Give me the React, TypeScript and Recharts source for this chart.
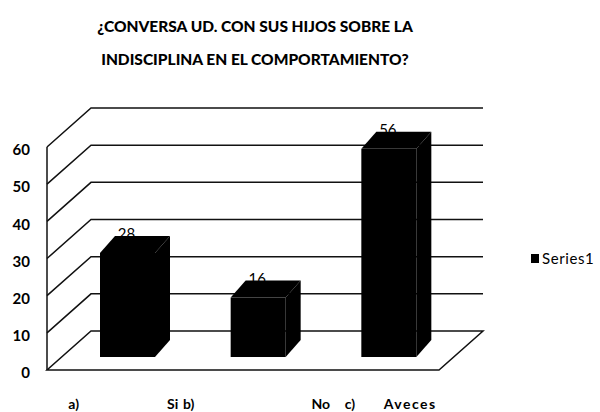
import React from 'react';
import { BarChart, Bar, XAxis, YAxis, CartesianGrid, LabelList } from 'recharts';

const LETTERS = ['a)', 'b)', 'c)'];
const ANSWERS = ['Si', 'No', 'Aveces'];
const SERIES1 = [28, 16, 56];
const Y_TICKS = [0, 10, 20, 30, 40, 50, 60];
const TITLE_LINES = ['¿CONVERSA UD. CON SUS HIJOS SOBRE LA', 'INDISCIPLINA EN EL COMPORTAMIENTO?'];
const SERIES_NAME = 'Series1';

const data = ANSWERS.map((a, i) => ({ name: `${LETTERS[i]} ${a}`, Series1: SERIES1[i] }));

// 3D look (styling constants)
const FLOOR_DX = 44;
const FLOOR_DY = -39;
const BAR_OX = 15;
const BAR_OY = -13;
const BAR_DX = 15;
const BAR_DY = -17;
const LETTER_DX = [-44, -60, -29];
const NAME_DX = [66, 87, 63];
const NAME_SPACING = [0, 0, 1.5];
const FONT = 'Lato, "Open Sans", sans-serif';
const LINE = '#111';

const GridLine = (props: any) => {
  const { x1, x2, y1, index } = props;
  const y = y1;
  if (index === 0 || Math.abs(y - 370) < 1) {
    const d = `M${x1},${y} L${x2},${y} L${x2 + FLOOR_DX},${y + FLOOR_DY} L${x1 + FLOOR_DX},${y + FLOOR_DY} Z`;
    return <path key={`g${index}`} d={d} fill="none" stroke={LINE} strokeWidth={1.5} />;
  }
  const d = `M${x1},${y} L${x1 + FLOOR_DX},${y + FLOOR_DY} L${x2 + FLOOR_DX},${y + FLOOR_DY}`;
  return <path key={`g${index}`} d={d} fill="none" stroke={LINE} strokeWidth={1.5} />;
};

const Box3D = (props: any) => {
  const { x, y, width, height } = props;
  const fx = x + BAR_OX;
  const fy = y + BAR_OY;
  const top = `M${fx},${fy} L${fx + BAR_DX},${fy + BAR_DY} L${fx + width + BAR_DX},${fy + BAR_DY} L${fx + width},${fy} Z`;
  const side = `M${fx + width},${fy} L${fx + width + BAR_DX},${fy + BAR_DY} L${fx + width + BAR_DX},${fy + height + BAR_DY} L${fx + width},${fy + height} Z`;
  return (
    <g>
      <rect x={fx} y={fy} width={width} height={height} fill="#000" />
      <path d={top} fill="#000" />
      <path d={side} fill="#000" />
    </g>
  );
};

const ValueLabel = (props: any) => {
  const { x, y, width, value } = props;
  return (
    <text x={x + BAR_OX + width / 2 - 1} y={y + BAR_OY + BAR_DY + 3} textAnchor="middle" fontSize={15} fontFamily={FONT} fill="#000">
      {value}
    </text>
  );
};

const XTick = (props: any) => {
  const { x, y, index } = props;
  return (
    <g>
      <text x={x + LETTER_DX[index]} y={y + 31} textAnchor="start" fontSize={14} fontWeight={700} fontFamily={FONT} fill="#000">
        {LETTERS[index]}
      </text>
      <text x={x + NAME_DX[index]} y={y + 31} textAnchor="end" fontSize={14} fontWeight={700} letterSpacing={NAME_SPACING[index]} fontFamily={FONT} fill="#000">
        {ANSWERS[index]}
      </text>
    </g>
  );
};

export default function App() {
  return (
    <div style={{ position: 'absolute', left: 0, top: 0, width: 600, height: 412, background: '#fff', fontFamily: FONT }}>
      <div style={{ position: 'absolute', left: 0, top: 10, width: 510, textAlign: 'center', fontWeight: 900, fontSize: 15.5, lineHeight: '33px', color: '#000' }}>
        {TITLE_LINES.map((t) => (
          <div key={t}>{t}</div>
        ))}
      </div>
      <BarChart width={600} height={412} data={data} margin={{ top: 147, right: 161, left: 0, bottom: 0 }}>
        <CartesianGrid vertical={false} horizontal={GridLine as any} />
        <XAxis dataKey="name" axisLine={false} tickLine={false} height={42} tick={<XTick />} interval={0} />
        <YAxis
          domain={[0, 60]}
          ticks={Y_TICKS}
          width={47}
          tickSize={6}
          tickMargin={11}
          tickLine={false}
          axisLine={{ stroke: LINE, strokeWidth: 1.5 }}
          tick={{ fontSize: 15, fontWeight: 700, fontFamily: FONT, fill: '#000', dy: 3 }}
        />
        <Bar dataKey="Series1" name={SERIES_NAME} barSize={55} fill="#000" shape={<Box3D />} isAnimationActive={false}>
          <LabelList dataKey="Series1" content={<ValueLabel />} />
        </Bar>
      </BarChart>
      <div style={{ position: 'absolute', left: 531, top: 249, display: 'flex', alignItems: 'center', fontSize: 15, letterSpacing: 0.6, color: '#000' }}>
        <span style={{ display: 'inline-block', width: 8, height: 9, background: '#000', marginRight: 3 }} />
        <span>{SERIES_NAME}</span>
      </div>
    </div>
  );
}
